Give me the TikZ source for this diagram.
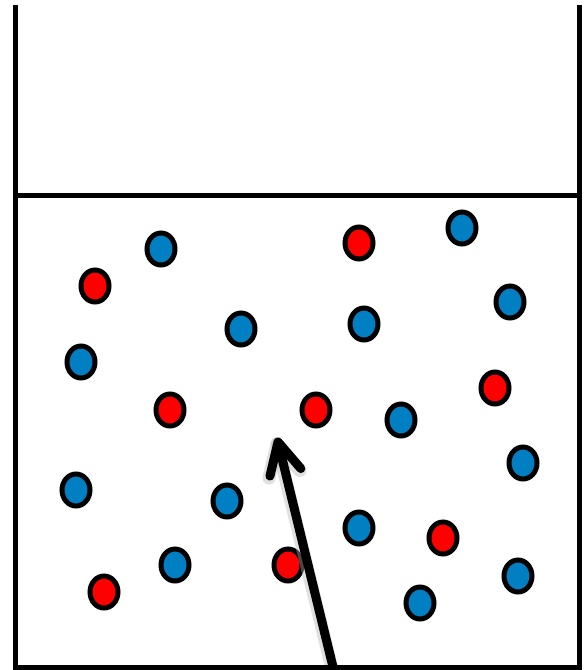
\documentclass[tikz,border=0pt]{standalone}
\usepackage{tikz}
\usetikzlibrary{calc,shapes.geometric}
\definecolor{ionred}{RGB}{255,0,0}
\definecolor{ionblue}{RGB}{0,127,195}

\begin{document}
\begin{tikzpicture}[
			x=1pt,y=-1pt,
			ion/.style={ellipse,draw=black,line width=5pt,minimum width=28pt,minimum height=32pt,inner sep=0pt},
			rion/.style={ion,fill=ionred},
			bion/.style={ion,fill=ionblue},
			wall/.style={line width=5pt,line join=miter,line cap=butt},
			arr/.style={black,line width=9pt,line cap=round,line join=round}
			]
			\useasboundingbox (0,0) rectangle (586,670);
			% blue ions
			\node[bion] (b1) at (161,249) {};
			\node[bion] (b2) at (462,228) {};
			\node[bion] (b3) at (510,302) {};
			\node[bion] (b4) at (241,329) {};
			\node[bion] (b5) at (364,324) {};
			\node[bion] (b6) at (81,362) {};
			\node[bion] (b7) at (401,420) {};
			\node[bion] (b8) at (523,463) {};
			\node[bion] (b9) at (76,490) {};
			\node[bion] (b10) at (227,501) {};
			\node[bion] (b11) at (359,528) {};
			\node[bion] (b12) at (175,565) {};
			\node[bion] (b13) at (518,576) {};
			\node[bion] (b14) at (420,603) {};
			% red ions
			\node[rion] (r1) at (359,243) {};
			\node[rion] (r2) at (95,286) {};
			\node[rion] (r3) at (495,388) {};
			\node[rion] (r4) at (170,410) {};
			\node[rion] (r5) at (316,410) {};
			\node[rion] (r6) at (443,538) {};
			\node[rion] (r7) at (288,565) {};
			\node[rion] (r8) at (104,592) {};
			% arrow
			\coordinate (start) at (333,667);
			\coordinate (tip) at (278,442);
			\draw[arr,black!30,opacity=0.4,line width=13pt,transform canvas={shift={(-1pt,-2pt)}}] (start) -- (tip);
			\draw[arr,black!30,opacity=0.4,line width=13pt,transform canvas={shift={(-1pt,-2pt)}}] ($(tip)!35pt!27:(start)$) -- (tip) -- ($(tip)!35pt!-27:(start)$);
			\draw[arr,line cap=butt] (start) -- (tip);
			\draw[arr] ($(tip)!35pt!27:(start)$) -- (tip) -- ($(tip)!35pt!-27:(start)$);
			% beaker
			\coordinate (tl) at (15.5,5);
			\coordinate (tr) at (579.5,5);
			\coordinate (bl) at (15.5,667);
			\coordinate (br) at (579.5,667);
			\draw[wall] (tl) -- (bl) -- (br) -- (tr);
			\draw[wall] (15.5,195) -- (579.5,195);
		\end{tikzpicture}
\end{document}
